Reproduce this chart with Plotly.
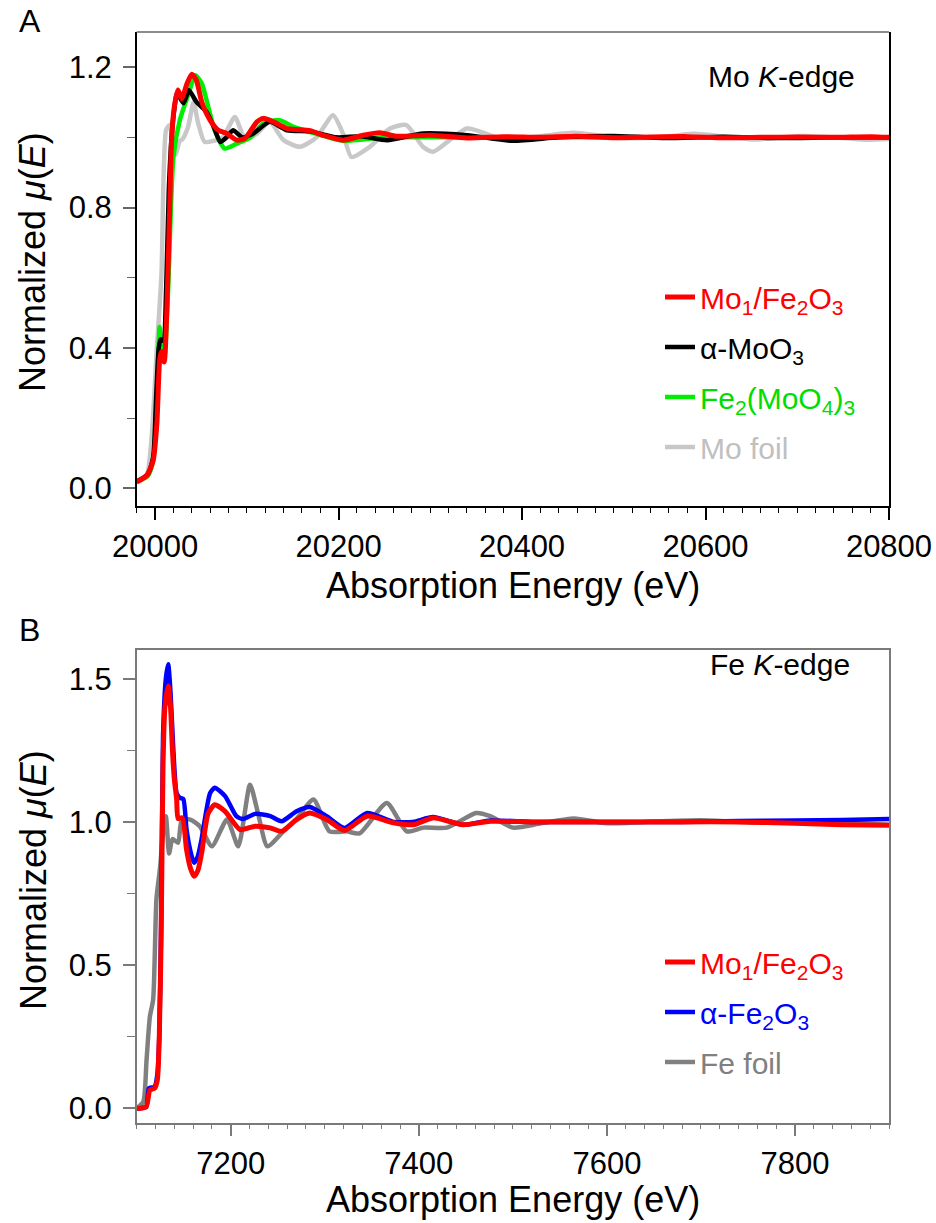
import plotly.graph_objects as go

# ---------------- Panel A: Mo K-edge ----------------
moA_red_E = [19980, 19991, 19998, 20002, 20005, 20007, 20010, 20013, 20016, 20018, 20021, 20025, 20029,
             20035, 20040, 20045, 20051, 20060, 20069, 20078, 20089, 20098, 20111, 20118, 20129, 20144,
             20169, 20183, 20205, 20227, 20245, 20263, 20300, 20340, 20380, 20420, 20460, 20500, 20540,
             20580, 20620, 20660, 20700, 20740, 20780, 20800]
moA_red_v = [0.018, 0.037, 0.08, 0.185, 0.365, 0.39, 0.36, 0.52, 0.80, 0.99, 1.087, 1.135, 1.11,
             1.154, 1.18, 1.163, 1.10, 1.049, 1.02, 1.011, 0.992, 0.997, 1.044, 1.054, 1.044, 1.025,
             1.019, 1.006, 0.992, 1.006, 1.013, 1.003, 1.006, 0.998, 1.002, 1.0, 1.003, 0.999, 1.001,
             1.002, 0.999, 1.0, 1.001, 1.0, 1.002, 1.0]

moA_black_E = [19980, 19992, 19998, 20001, 20004, 20006, 20009, 20012, 20015, 20018, 20021, 20024, 20031,
               20037, 20045, 20056, 20064, 20071, 20078, 20085, 20095, 20107, 20125, 20144, 20169, 20198,
               20225, 20253, 20292, 20340, 20390, 20440, 20500, 20560, 20620, 20680, 20740, 20800]
moA_black_v = [0.02, 0.04, 0.09, 0.25, 0.40, 0.425, 0.42, 0.56, 0.85, 1.0, 1.08, 1.125, 1.097,
               1.134, 1.101, 1.073, 1.03, 0.987, 1.0, 1.02, 1.0, 1.011, 1.044, 1.02, 1.017, 1.0,
               1.003, 0.992, 1.011, 1.006, 0.99, 1.0, 1.004, 0.998, 1.002, 0.998, 1.0, 1.0]

moA_green_E = [19980, 19992, 19998, 20002, 20005, 20007, 20010, 20014, 20020, 20027, 20036, 20044, 20051,
               20058, 20065, 20076, 20089, 20104, 20118, 20136, 20151, 20176, 20205, 20250, 20300, 20400,
               20500, 20600, 20700, 20800]
moA_green_v = [0.02, 0.035, 0.08, 0.25, 0.46, 0.40, 0.37, 0.55, 0.944, 1.049, 1.12, 1.177, 1.153,
               1.087, 1.02, 0.968, 0.982, 1.0, 1.04, 1.049, 1.03, 1.01, 0.99, 1.0, 1.0, 1.0,
               1.0, 1.0, 1.0, 1.0]

moA_foil_E = [19980, 19991, 19996, 20002, 20007, 20012, 20016, 20022, 20027, 20030, 20036, 20042, 20047,
              20054, 20064, 20074, 20087, 20098, 20111, 20125, 20140, 20158, 20176, 20194, 20205, 20214,
              20234, 20256, 20274, 20292, 20303, 20340, 20376, 20410, 20456, 20507, 20550, 20587, 20652,
              20706, 20750, 20776, 20800]
moA_foil_v = [0.02, 0.04, 0.137, 0.40, 0.61, 1.02, 1.035, 0.95, 0.99, 0.995, 1.03, 1.10, 1.04,
              0.987, 0.99, 1.0, 1.058, 0.997, 1.01, 1.044, 0.992, 0.973, 1.0, 1.063, 1.01, 0.944,
              0.973, 1.025, 1.035, 0.973, 0.959, 1.025, 0.997, 1.0, 1.013, 0.998, 1.0, 1.01, 0.994,
              1.004, 0.998, 0.993, 0.995]

# ---------------- Panel B: Fe K-edge ----------------
feB_red_E = [7100, 7110, 7114, 7119, 7122, 7124, 7126, 7128, 7130, 7133.5, 7136, 7138, 7140, 7142.5, 7144,
             7148.5, 7153, 7157, 7161, 7165, 7169, 7176, 7183, 7194, 7210, 7226, 7242, 7254, 7270, 7284,
             7302, 7321, 7345, 7373, 7394, 7415, 7447, 7476, 7520, 7570, 7620, 7680, 7740, 7800, 7850, 7900]
feB_red_v = [0.0, 0.005, 0.064, 0.07, 0.10, 0.25, 0.6, 1.2, 1.4, 1.474, 1.40, 1.25, 1.15, 1.078, 1.012,
             1.014, 0.903, 0.84, 0.81, 0.83, 0.89, 1.03, 1.06, 1.037, 0.973, 0.985, 0.979, 0.967, 1.008, 1.031,
             1.008, 0.97, 1.02, 0.997, 0.99, 1.014, 0.99, 1.002, 1.0, 1.0, 1.0, 1.0, 1.0, 0.995, 0.99, 0.988]

feB_blue_E = [7100, 7110, 7113, 7119, 7122, 7124, 7126, 7128, 7131, 7133.5, 7136, 7139, 7142.5, 7146, 7149.5,
              7153, 7157, 7161, 7165, 7169, 7178, 7183, 7194, 7206, 7213, 7226, 7242, 7254, 7270, 7284,
              7302, 7321, 7345, 7373, 7394, 7415, 7447, 7476, 7520, 7570, 7620, 7680, 7740, 7800, 7850, 7900]
feB_blue_v = [0.0, 0.005, 0.07, 0.075, 0.12, 0.25, 0.65, 1.3, 1.5, 1.55, 1.45, 1.25, 1.10, 1.084, 1.08,
              0.973, 0.90, 0.857, 0.88, 0.94, 1.10, 1.119, 1.09, 1.02, 1.01, 1.028, 1.02, 1.002, 1.037, 1.052,
              1.02, 0.979, 1.031, 1.0, 1.0, 1.017, 0.99, 1.005, 1.0, 1.0, 1.0, 1.0, 1.003, 1.005, 1.007, 1.01]

feB_foil_E = [7100, 7107, 7110.5, 7114, 7117.5, 7121, 7125, 7128, 7131, 7134.5, 7138, 7144, 7148, 7157, 7167,
              7180, 7196, 7208, 7220.5, 7229, 7239, 7256, 7270, 7288, 7305, 7323, 7337, 7366, 7387, 7405,
              7430, 7461, 7476, 7500, 7530, 7565, 7600, 7640, 7700, 7760, 7820, 7860, 7900]
feB_foil_v = [0.0, 0.023, 0.17, 0.32, 0.38, 0.73, 0.845, 0.96, 1.02, 0.89, 0.94, 0.927, 1.008, 1.008, 0.985,
              0.915, 1.008, 0.915, 1.13, 1.03, 0.915, 0.967, 1.01, 1.078, 0.967, 0.967, 0.96, 1.066, 0.967, 0.98,
              0.98, 1.031, 1.02, 0.98, 0.995, 1.012, 0.995, 1.0, 1.006, 0.998, 1.0, 0.995, 0.99]

A_xticks = [20000, 20200, 20400, 20600, 20800]
A_yticks = [0.0, 0.4, 0.8, 1.2]
B_xticks = [7200, 7400, 7600, 7800]
B_yticks = [0.0, 0.5, 1.0, 1.5]

FONT = "Arial, 'Liberation Sans', sans-serif"
W, H = 936, 1223

def px(x):
    return x / W

def py(y):
    return 1 - y / H

fig = go.Figure()

def line(xs, ys, color, name, width, xa, ya, legend, rank, textcolor, group):
    fig.add_trace(go.Scatter(
        x=xs, y=ys, mode="lines", name=f"<span style='color:{textcolor}'>{name}</span>",
        line=dict(color=color, width=width, shape="spline", smoothing=0.6),
        xaxis=xa, yaxis=ya, legend=legend, legendrank=rank, legendgroup=group, hoverinfo="skip"))

# Panel A traces (drawing order: foil, green, black, red)
line(moA_foil_E, moA_foil_v, "#c8c8c8", "Mo foil", 4.5, "x", "y", "legend", 4, "#c0c0c0", "a4")
line(moA_green_E, moA_green_v, "#00ee00", "Fe<sub>2</sub>(MoO<sub>4</sub>)<sub>3</sub>", 4.5, "x", "y", "legend", 3, "#00dd00", "a3")
line(moA_black_E, moA_black_v, "#000000", "α-MoO<sub>3</sub>", 4.5, "x", "y", "legend", 2, "#000000", "a2")
line(moA_red_E, moA_red_v, "#ff0000", "Mo<sub>1</sub>/Fe<sub>2</sub>O<sub>3</sub>", 5, "x", "y", "legend", 1, "#ff0000", "a1")

# Panel B traces
line(feB_foil_E, feB_foil_v, "#808080", "Fe foil", 4.5, "x2", "y2", "legend2", 3, "#808080", "b3")
line(feB_blue_E, feB_blue_v, "#0000ff", "α-Fe<sub>2</sub>O<sub>3</sub>", 4.5, "x2", "y2", "legend2", 2, "#0000ff", "b2")
line(feB_red_E, feB_red_v, "#ff0000", "Mo<sub>1</sub>/Fe<sub>2</sub>O<sub>3</sub>", 5, "x2", "y2", "legend2", 1, "#ff0000", "b1")

xdomA = [px(136.7), px(889)]
ydomA = [py(506), py(32)]
ydomB = [py(1122.7), py(650)]

tickfont = dict(family=FONT, size=31, color="black")

fig.update_layout(
    width=W, height=H, margin=dict(l=0, r=0, t=0, b=0, autoexpand=False),
    paper_bgcolor="white", plot_bgcolor="white",
    font=dict(family=FONT, color="black"),
    xaxis=dict(domain=xdomA, range=[19980, 20800], tickvals=A_xticks, tickformat="d",
               ticks="outside", ticklen=12, tickwidth=1.5, tickcolor="black",
               showline=True, linecolor="black", linewidth=1.5, mirror=False, automargin=False,
               showgrid=False, zeroline=False, tickfont=tickfont, anchor="y",
               minor=dict(dtick=20, tick0=19980, ticks="outside", ticklen=5, tickwidth=1.2, tickcolor="black")),
    yaxis=dict(domain=ydomA, range=[-0.05, 1.3], tickvals=A_yticks, tickformat=".1f",
               ticks="outside", ticklen=12, tickwidth=1.5, tickcolor="#666666",
               showline=True, linecolor="black", linewidth=1.5, mirror=True, automargin=False,
               showgrid=False, zeroline=False, tickfont=tickfont, anchor="x",
               ticklabelstandoff=5,
               minor=dict(dtick=0.2, tick0=0, ticks="outside", ticklen=8, tickwidth=1.2, tickcolor="#666666")),
    xaxis2=dict(domain=xdomA, range=[7100, 7900], tickvals=B_xticks, tickformat="d",
                ticks="outside", ticklen=12, tickwidth=1.5, tickcolor="#7a7a7a",
                showline=True, linecolor="#7a7a7a", linewidth=1.5, mirror=True, automargin=False,
                showgrid=False, zeroline=False, tickfont=tickfont, anchor="y2",
                minor=dict(dtick=20, tick0=7100, ticks="outside", ticklen=5, tickwidth=1.2, tickcolor="#7a7a7a")),
    yaxis2=dict(domain=ydomB, range=[-0.05, 1.6], tickvals=B_yticks, tickformat=".1f",
                ticks="outside", ticklen=12, tickwidth=1.5, tickcolor="#7a7a7a",
                showline=True, linecolor="#7a7a7a", linewidth=1.5, mirror=True, automargin=False,
                showgrid=False, zeroline=False, tickfont=tickfont, anchor="x2",
                ticklabelstandoff=5,
                minor=dict(dtick=0.25, tick0=0, ticks="outside", ticklen=8, tickwidth=1.2, tickcolor="#7a7a7a")),
    legend=dict(x=px(660), y=py(271), xanchor="left", yanchor="top", bgcolor="rgba(0,0,0,0)",
                font=dict(family=FONT, size=30), itemwidth=30, tracegroupgap=8,
                traceorder="grouped"),
    legend2=dict(x=px(660), y=py(936), xanchor="left", yanchor="top", bgcolor="rgba(0,0,0,0)",
                 font=dict(family=FONT, size=30), itemwidth=30, tracegroupgap=8,
                 traceorder="grouped"),
    showlegend=True,
)

# top border of panel A (grey)
fig.add_shape(type="line", xref="x domain", yref="y domain", x0=0, x1=1, y0=1, y1=1,
              line=dict(color="#666666", width=1.5))

ann = []
ann.append(dict(text="A", x=px(30), y=py(21), xref="paper", yref="paper", showarrow=False,
                font=dict(family=FONT, size=32, color="black"), xanchor="center", yanchor="middle"))
ann.append(dict(text="B", x=px(30), y=py(630), xref="paper", yref="paper", showarrow=False,
                font=dict(family=FONT, size=32, color="black"), xanchor="center", yanchor="middle"))
ann.append(dict(text="Mo <i>K</i>-edge", x=px(857), y=py(77), xref="paper", yref="paper", showarrow=False,
                font=dict(family=FONT, size=30, color="black"), xanchor="right", yanchor="middle"))
ann.append(dict(text="Fe <i>K</i>-edge", x=px(852), y=py(664), xref="paper", yref="paper", showarrow=False,
                font=dict(family=FONT, size=30, color="black"), xanchor="right", yanchor="middle"))
for yc in (262, 880):
    ann.append(dict(text="Normalized <i>μ</i>(<i>E</i>)", x=px(33), y=py(yc), xref="paper", yref="paper",
                    showarrow=False, textangle=-90, font=dict(family=FONT, size=36, color="black"),
                    xanchor="center", yanchor="middle"))
for yc in (585, 1199):
    ann.append(dict(text="Absorption Energy (eV)", x=px(513), y=py(yc), xref="paper", yref="paper",
                    showarrow=False, font=dict(family=FONT, size=36, color="black"),
                    xanchor="center", yanchor="middle"))
fig.update_layout(annotations=ann)

fig.write_html("out.html")
